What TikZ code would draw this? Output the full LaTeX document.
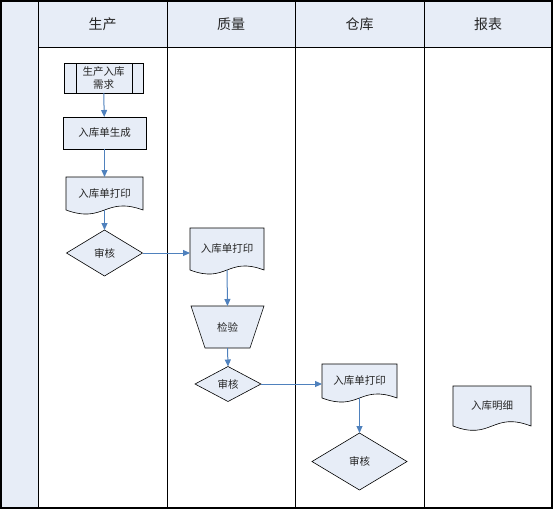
\documentclass[tikz,border=0pt]{standalone}
\usepackage{fontspec}
\setmainfont{Noto Sans CJK SC}
\usetikzlibrary{arrows.meta,shapes.geometric,calc,backgrounds}
\definecolor{fillblue}{HTML}{E7EDF7}
\definecolor{arrowblue}{HTML}{4F81BD}
\tikzset{
  txt/.style={font=\fontsize{10.5}{13}\selectfont, text=black!85, align=center},
  box/.style={txt, draw=black, fill=fillblue, line width=0.6pt, inner sep=0pt, outer sep=0pt},
  ghost/.style={txt, draw=none, inner sep=0pt, outer sep=0pt},
  shapeline/.style={draw=black, fill=fillblue, line width=0.6pt},
  flow/.style={draw=arrowblue, line width=1pt, -{Triangle[length=7pt,width=6pt]}},
  decision/.style={box, diamond},
  hdr/.style={font=\fontsize{14}{16}\selectfont, text=black!85},
  lane/.style={draw=black, line width=0.8pt},
}
\newcommand{\docpath}[2]{%
  \draw[shapeline] (#1.south west) -- (#1.north west) -- (#1.north east) -- (#1.south east)
    .. controls ($(#1.south)+(0,#2)$) and ($(#1.south)+(0,-#2)$) .. (#1.south west) -- cycle;}
\begin{document}
\begin{tikzpicture}[x=1pt,y=-1pt]
\useasboundingbox (0,0) rectangle (553,509);
% lanes
\fill[fillblue] (1,1) rectangle (38,508);
\fill[fillblue] (38,1) rectangle (552,47);
\draw[lane] (38,1) -- (38,508);
\draw[lane] (167,1) -- (167,508);
\draw[lane] (295,1) -- (295,508);
\draw[lane] (424,1) -- (424,508);
\draw[lane] (38,47) -- (552,47);
\draw[line width=1.2pt] (1,1) rectangle (552,508);
\node[hdr] (h1) at (102.5,24) {生产};
\node[hdr] (h2) at (231,24) {质量};
\node[hdr] (h3) at (359.5,24) {仓库};
\node[hdr] (h4) at (488,24) {报表};
% nodes
\node[box, minimum width=79pt, minimum height=30pt] (req) at (103.5,78) {生产入库\\需求};
\draw[line width=0.6pt] ([xshift=12pt]req.north west) -- ([xshift=12pt]req.south west);
\draw[line width=0.6pt] ([xshift=-11pt]req.north east) -- ([xshift=-11pt]req.south east);
\node[box, minimum width=83pt, minimum height=32pt] (gen) at (104.5,133) {入库单生成};
\node[ghost, minimum width=77pt, minimum height=33pt] (doc1) at (104.5,193.5) {入库单打印};
\node[decision, minimum width=76pt, minimum height=46pt] (dia1) at (104.5,253) {审核};
\node[ghost, minimum width=74pt, minimum height=42pt] (doc2) at (227,249) {入库单打印};
\node[ghost, minimum width=73pt, minimum height=42pt] (jy) at (227.5,327) {检验};
\node[decision, minimum width=66pt, minimum height=35pt] (dia2) at (228,384) {审核};
\node[ghost, minimum width=75pt, minimum height=34pt] (doc3) at (359.5,381) {入库单打印};
\node[decision, minimum width=95pt, minimum height=57pt] (dia3) at (359.5,461.5) {审核};
\node[ghost, minimum width=78pt, minimum height=40pt] (doc4) at (492,406) {入库明细};
\begin{scope}[on background layer]
  \docpath{doc1}{14pt}
  \docpath{doc2}{14pt}
  \docpath{doc3}{14pt}
  \docpath{doc4}{15pt}
  \draw[shapeline] (jy.north west) -- (jy.north east) -- ([xshift=-14pt]jy.south east) -- ([xshift=14pt]jy.south west) -- cycle;
\end{scope}
% connectors
\draw[flow] (req) -- (gen);
\draw[flow] (gen) -- (doc1);
\draw[flow] (doc1.south) -- (dia1.north);
\draw[flow] (dia1.east) -- (dia1.east -| doc2.west);
\draw[flow] (doc2.south) -- (jy.north);
\draw[flow] (jy.south) -- (dia2.north);
\draw[flow] (dia2.east) -- (dia2.east -| doc3.west);
\draw[flow] (doc3.south) -- (dia3.north);
\end{tikzpicture}
\end{document}
